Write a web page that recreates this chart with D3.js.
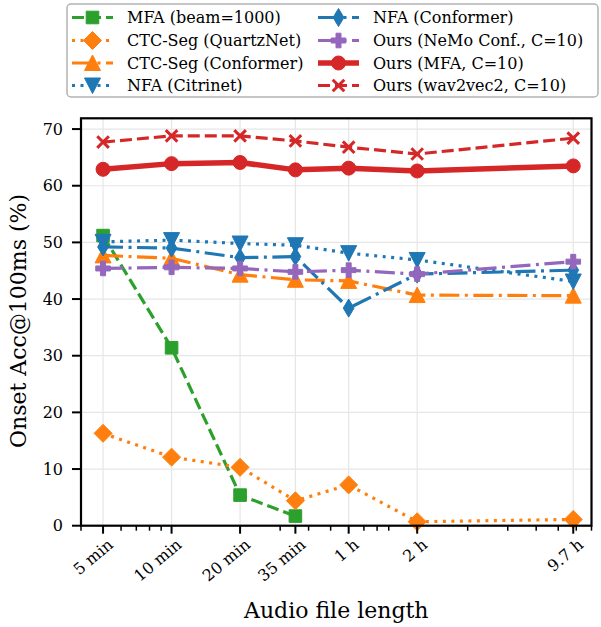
<!DOCTYPE html>
<html>
<head>
<meta charset="utf-8">
<script src="https://cdn.jsdelivr.net/npm/d3@7"></script>
<style>
  body { margin: 0; background: #fff; }
  text { font-family: "DejaVu Serif", serif; fill: #000; }
</style>
</head>
<body>
<div id="chart"></div>
<script>
// audio length in minutes, with the labels used on the axis
const minutes = [5, 10, 20, 35, 60, 120, 582];
const tickLabels = ["5 min", "10 min", "20 min", "35 min", "1 h", "2 h", "9.7 h"];
const minorTicks = [4, 6, 7, 8, 9, 30, 40, 50, 70, 80, 90, 200, 300, 400, 500, 600, 700];
const yTicks = [0, 10, 20, 30, 40, 50, 60, 70];

// onset accuracy @100ms (%)
const mfaBeam = [51.2, 31.4, 5.4, 1.7];
const ctcQuartz = [16.3, 12.1, 10.3, 4.4, 7.2, 0.7, 1.1];
const ctcConformer = [47.7, 47.2, 44.3, 43.4, 43.2, 40.7, 40.6];
const nfaCitrinet = [50.1, 50.4, 49.8, 49.5, 48.1, 46.9, 43.1];
const nfaConformer = [49.2, 49.0, 47.3, 47.5, 38.4, 44.4, 45.1];
const oursNemo = [45.4, 45.6, 45.4, 44.8, 45.1, 44.4, 46.6];
const oursMfa = [62.9, 63.9, 64.1, 62.8, 63.1, 62.6, 63.5];
const oursW2v = [67.7, 68.8, 68.8, 67.9, 66.8, 65.6, 68.4];

const seriesNames = [
  "MFA (beam=1000)", "CTC-Seg (QuartzNet)", "CTC-Seg (Conformer)", "NFA (Citrinet)",
  "NFA (Conformer)", "Ours (NeMo Conf., C=10)", "Ours (MFA, C=10)", "Ours (wav2vec2, C=10)"
];
const seriesValues = [mfaBeam, ctcQuartz, ctcConformer, nfaCitrinet, nfaConformer, oursNemo, oursMfa, oursW2v];

const styles = [
  { col: "#2ca02c", dash: "12,5", marker: "s", lw: 3.2 },
  { col: "#ff7f0e", dash: "3,5.5", marker: "D", lw: 3.2 },
  { col: "#ff7f0e", dash: "20,5.5,3,5.5", marker: "^", lw: 3.2 },
  { col: "#1f77b4", dash: "3,5.5", marker: "v", lw: 3.2 },
  { col: "#1f77b4", dash: "20,5.5,3,5.5", marker: "d", lw: 3.2 },
  { col: "#9467bd", dash: "20,5.5,3,5.5", marker: "P", lw: 3.2 },
  { col: "#d62728", dash: null, marker: "o", lw: 5.5 },
  { col: "#d62728", dash: "12,5", marker: "x", lw: 3.2 }
];

const width = 601, height = 627;
const plot = { left: 81, right: 591.5, top: 118.3, bottom: 525.7 };

const x = d3.scaleLog().domain([4, 700]).range([plot.left, plot.right]);
const y = d3.scaleLinear().domain([0, 71.9]).range([plot.bottom, plot.top]);

const svg = d3.select("#chart").append("svg")
  .attr("width", width).attr("height", height);

// grid
svg.append("g").selectAll("line").data(minutes).enter().append("line")
  .attr("x1", d => x(d)).attr("x2", d => x(d))
  .attr("y1", plot.top).attr("y2", plot.bottom)
  .attr("stroke", "#e6e6e6").attr("stroke-width", 1.2);
svg.append("g").selectAll("line").data(yTicks).enter().append("line")
  .attr("x1", plot.left).attr("x2", plot.right)
  .attr("y1", d => y(d)).attr("y2", d => y(d))
  .attr("stroke", "#e6e6e6").attr("stroke-width", 1.2);

// marker shapes
function markerPath(type) {
  switch (type) {
    case "s": return "M-6.3,-6.3H6.3V6.3H-6.3Z";
    case "D": return "M0,-9L9,0L0,9L-9,0Z";
    case "d": return "M0,-9L5.4,0L0,9L-5.4,0Z";
    case "^": return "M0,-8L8,7.5L-8,7.5Z";
    case "v": return "M0,8L8,-7.5L-8,-7.5Z";
    case "P": return "M-2.5,-7.3H2.5V-2.5H7.3V2.5H2.5V7.3H-2.5V2.5H-7.3V-2.5H-2.5Z";
    case "o": return d3.symbol(d3.symbolCircle, Math.PI * 7 * 7)();
    case "x": return "M-5.8,-5.8L5.8,5.8M-5.8,5.8L5.8,-5.8";
  }
}

function drawMarker(g, st, cx, cy) {
  const p = g.append("path").attr("d", markerPath(st.marker))
    .attr("transform", `translate(${cx},${cy})`);
  if (st.marker === "x") {
    p.attr("fill", "none").attr("stroke", st.col).attr("stroke-width", 3);
  } else {
    p.attr("fill", st.col).attr("stroke", st.col).attr("stroke-width", 1);
  }
}

const line = d3.line().x((d, i) => x(minutes[i])).y(d => y(d));

const plotG = svg.append("g");
seriesValues.forEach((vals, k) => {
  const st = styles[k];
  const g = plotG.append("g");
  g.append("path").datum(vals).attr("d", line)
    .attr("fill", "none").attr("stroke", st.col).attr("stroke-width", st.lw)
    .attr("stroke-dasharray", st.dash).attr("stroke-linejoin", "round");
  vals.forEach((v, i) => drawMarker(g, st, x(minutes[i]), y(v)));
});

// spines
svg.append("rect").attr("x", plot.left).attr("y", plot.top)
  .attr("width", plot.right - plot.left).attr("height", plot.bottom - plot.top)
  .attr("fill", "none").attr("stroke", "#000").attr("stroke-width", 2.2);

// y axis
const yg = svg.append("g");
yg.selectAll("line").data(yTicks).enter().append("line")
  .attr("x1", plot.left - 9).attr("x2", plot.left)
  .attr("y1", d => y(d)).attr("y2", d => y(d))
  .attr("stroke", "#000").attr("stroke-width", 2);
yg.selectAll("text").data(yTicks).enter().append("text")
  .attr("x", plot.left - 18).attr("y", d => y(d)).attr("dy", "0.36em")
  .attr("text-anchor", "end").style("font-size", "16px").text(d => d);

// x axis
const xg = svg.append("g");
xg.selectAll("line.major").data(minutes).enter().append("line")
  .attr("x1", d => x(d)).attr("x2", d => x(d))
  .attr("y1", plot.bottom).attr("y2", plot.bottom + 8)
  .attr("stroke", "#000").attr("stroke-width", 2);
xg.selectAll("line.minor").data(minorTicks).enter().append("line")
  .attr("x1", d => x(d)).attr("x2", d => x(d))
  .attr("y1", plot.bottom).attr("y2", plot.bottom + 5)
  .attr("stroke", "#000").attr("stroke-width", 1.5);
xg.selectAll("text").data(minutes).enter().append("text")
  .attr("transform", d => `translate(${x(d) + 4},${plot.bottom + 12}) rotate(-40)`)
  .attr("text-anchor", "end").attr("dy", "0.7em")
  .style("font-size", "16px").text((d, i) => tickLabels[i]);

// axis labels
svg.append("text").attr("x", (plot.left + plot.right) / 2).attr("y", 618)
  .attr("text-anchor", "middle").style("font-size", "22px").text("Audio file length");
svg.append("text").attr("transform", `translate(26,321) rotate(-90)`)
  .attr("text-anchor", "middle").style("font-size", "22px").text("Onset Acc@100ms (%)");

// legend
const leg = svg.append("g");
leg.append("rect").attr("x", 67).attr("y", 4).attr("width", 531).attr("height", 93)
  .attr("rx", 4).attr("fill", "#fff").attr("fill-opacity", 0.85)
  .attr("stroke", "#b3b3b3").attr("stroke-width", 1.5);
const rowY = [17.5, 40.5, 63, 85.5];
const colX = [72, 318];
seriesNames.forEach((name, k) => {
  const st = styles[k];
  const cx = colX[Math.floor(k / 4)], cy = rowY[k % 4];
  const g = leg.append("g");
  g.append("line").attr("x1", cx).attr("x2", cx + 41).attr("y1", cy).attr("y2", cy)
    .attr("stroke", st.col).attr("stroke-width", st.lw).attr("stroke-dasharray", st.dash);
  drawMarker(g, st, cx + 20.5, cy);
  g.append("text").attr("x", cx + 55).attr("y", cy).attr("dy", "0.36em")
    .style("font-family", "'DejaVu Serif', serif")
    .style("font-size", "16px").text(name);
});
</script>
</body>
</html>
